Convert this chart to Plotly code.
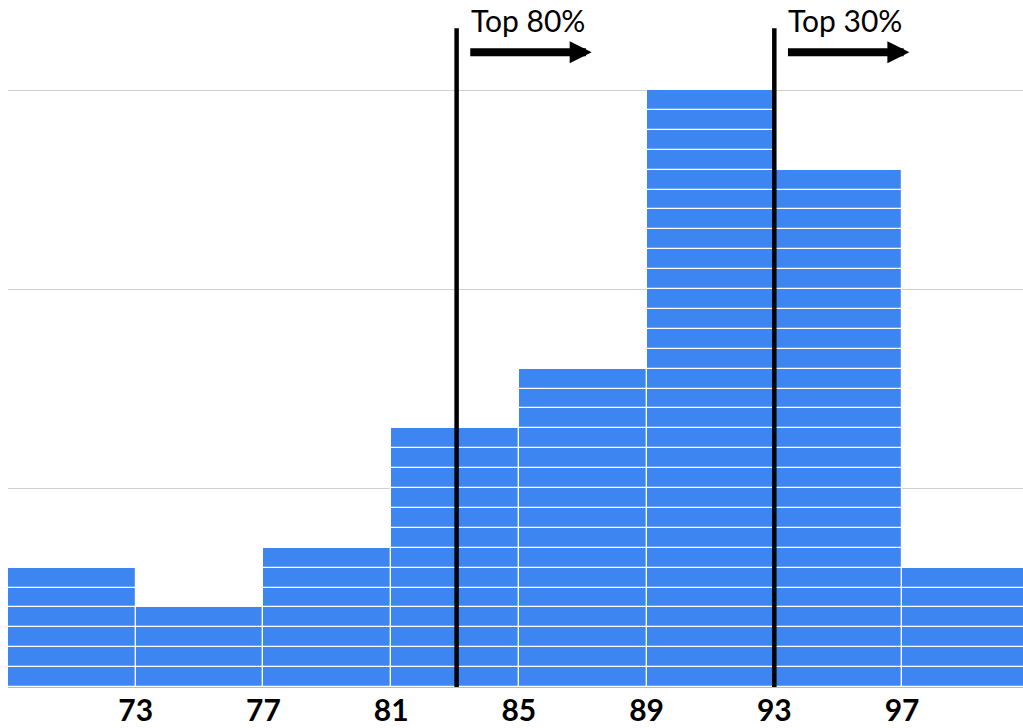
import plotly.graph_objects as go

# ---- data ----
bin_edges = [69, 73, 77, 81, 85, 89, 93, 97, 101]
counts = [6, 4, 7, 13, 16, 30, 26, 6]
tick_vals = [73, 77, 81, 85, 89, 93, 97]
tick_text = ["73", "77", "81", "85", "89", "93", "97"]
cutoffs = [83.05, 93.0]
cutoff_labels = ["Top 80%", "Top 30%"]

BAR_COLOR = "#3d85f1"
FONT = "Lato"

# build unit blocks (each observation is a separate block)
xs, bases, ys, widths = [], [], [], []
for i, n in enumerate(counts):
    left, right = bin_edges[i], bin_edges[i + 1]
    for k in range(n):
        xs.append((left + right) / 2)
        bases.append(k)
        ys.append(1)
        widths.append(right - left)

fig = go.Figure()
fig.add_trace(go.Bar(
    x=xs, y=ys, base=bases, width=widths,
    marker=dict(color=BAR_COLOR, line=dict(color="white", width=1.2)),
    hoverinfo="skip", showlegend=False,
))

px_per_x = 31.93
x_max = 69 + 1015 / px_per_x
y_max = 687 / 19.9
line_top = 33.1

shapes = []
annotations = []
for c, lab in zip(cutoffs, cutoff_labels):
    shapes.append(dict(type="line", xref="x", yref="y", x0=c, x1=c, y0=0, y1=line_top,
                       line=dict(color="black", width=4.5), layer="above"))
    tx = c + 0.38
    annotations.append(dict(x=tx, y=33.5, xref="x", yref="y", text=lab, showarrow=False,
                            xanchor="left", yanchor="middle",
                            font=dict(family=FONT, size=30, color="black")))
    annotations.append(dict(x=tx + 3.85, y=31.9, ax=tx, ay=31.9, xref="x", yref="y",
                            axref="x", ayref="y", text="", showarrow=True,
                            arrowhead=2, arrowsize=0.55, arrowwidth=8, arrowcolor="black",
                            standoff=0, startstandoff=0))

fig.update_layout(
    width=1023, height=728,
    margin=dict(l=8, r=0, t=0, b=41, autoexpand=False),
    paper_bgcolor="white", plot_bgcolor="white",
    barmode="overlay", bargap=0,
    shapes=shapes, annotations=annotations,
    font=dict(family=FONT),
    xaxis=dict(range=[69, x_max], tickvals=tick_vals, ticktext=tick_text,
               tickfont=dict(family=FONT, size=30, color="black", weight="bold"),
               ticklabelstandoff=3, automargin=False,
               showgrid=False, zeroline=False, showline=False, ticks=""),
    yaxis=dict(range=[0, y_max], tickvals=[0, 10, 20, 30], showticklabels=False,
               automargin=False,
               showgrid=True, gridcolor="#d0d0d0", gridwidth=1,
               zeroline=True, zerolinecolor="#bbbbbb", zerolinewidth=1, showline=False),
)

fig.write_html("out.html")
